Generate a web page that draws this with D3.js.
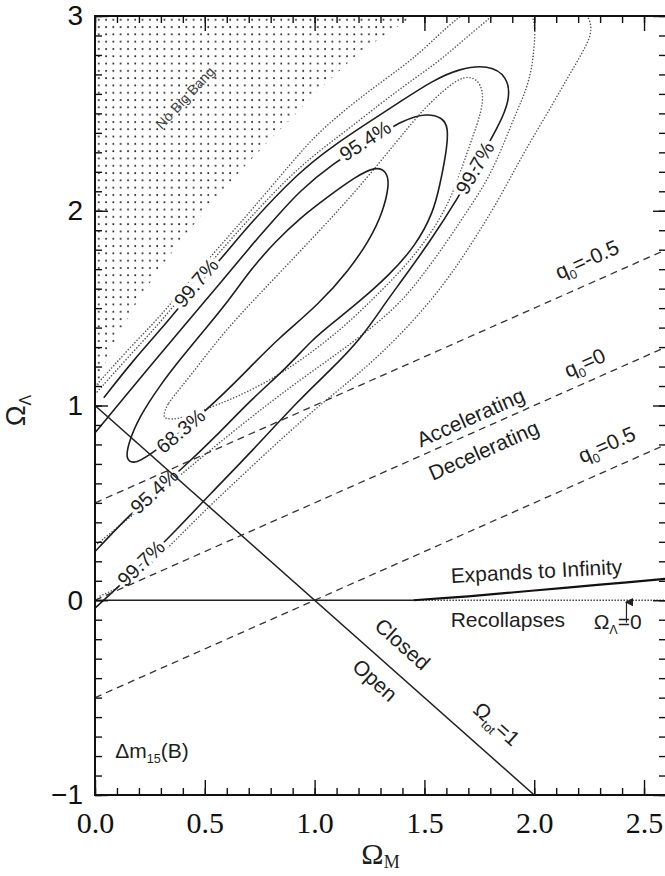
<!DOCTYPE html>
<html>
<head>
<meta charset="utf-8">
<script src="https://cdn.jsdelivr.net/npm/d3@7"></script>
<style>
  body { margin: 0; background: #fff; }
  svg { display: block; }
  text { font-family: "Liberation Sans", Arial, sans-serif; fill: #1e1e1e; }
</style>
</head>
<body>
<svg id="chart" width="665" height="876"></svg>
<script>
// tick labels
const xTicks = [0, 0.5, 1.0, 1.5, 2.0, 2.5];
const yTicks = [-1, 0, 1, 2, 3];

// "No Big Bang" edge, [Omega_M, Omega_Lambda]
const nbbEdge = [[0, 1.0], [0.02, 1.13], [0.05, 1.23], [0.1, 1.35], [0.2, 1.55], [0.3, 1.71], [0.4, 1.86],
  [0.5, 2.0], [0.6, 2.13], [0.7, 2.25], [0.8, 2.37], [0.9, 2.48], [1.0, 2.6], [1.2, 2.81], [1.45, 3.0]];

// solid contours
const solid68 = [[0.14, 0.72], [0.15, 0.80], [0.20, 0.94], [0.30, 1.11], [0.39, 1.24], [0.50, 1.39], [0.61, 1.54],
  [0.71, 1.70], [0.82, 1.84], [0.93, 1.96], [1.07, 2.08], [1.18, 2.17], [1.28, 2.23], [1.33, 2.20], [1.34, 2.13],
  [1.31, 1.99], [1.25, 1.85], [1.16, 1.70], [1.02, 1.52], [0.83, 1.34], [0.71, 1.20], [0.55, 1.02], [0.39, 0.86],
  [0.24, 0.74], [0.18, 0.70]];
const solid95 = [[0.00, 0.86], [0.11, 1.01], [0.25, 1.20], [0.39, 1.39], [0.55, 1.60], [0.71, 1.82], [0.82, 1.96],
  [0.93, 2.10], [1.08, 2.24], [1.25, 2.36], [1.41, 2.47], [1.51, 2.50], [1.58, 2.48], [1.61, 2.43], [1.60, 2.30],
  [1.57, 2.13], [1.54, 1.99], [1.46, 1.82], [1.34, 1.67], [1.21, 1.54], [1.09, 1.43], [0.99, 1.34], [0.87, 1.19],
  [0.71, 1.03], [0.55, 0.84], [0.40, 0.68], [0.25, 0.53], [0.15, 0.43], [0.00, 0.25]];
const solid99 = [[0.04, 1.04], [0.18, 1.24], [0.30, 1.39], [0.43, 1.57], [0.58, 1.76], [0.71, 1.94], [0.93, 2.20],
  [1.08, 2.33], [1.24, 2.45], [1.39, 2.56], [1.54, 2.67], [1.66, 2.73], [1.79, 2.75], [1.88, 2.69], [1.89, 2.57],
  [1.84, 2.44], [1.75, 2.26], [1.65, 2.06], [1.53, 1.85], [1.39, 1.63], [1.33, 1.54], [1.21, 1.34], [1.07, 1.18],
  [0.93, 1.03], [0.71, 0.76], [0.52, 0.54], [0.37, 0.36], [0.20, 0.17], [0.06, 0.02], [0.00, -0.04]];

// dotted contours
const dot68 = [[0.31, 0.95], [0.33, 1.01], [0.39, 1.09], [0.48, 1.22], [0.59, 1.38], [0.73, 1.55], [0.89, 1.74],
  [1.05, 1.93], [1.21, 2.13], [1.37, 2.35], [1.50, 2.53], [1.62, 2.65], [1.68, 2.69], [1.74, 2.68], [1.77, 2.61],
  [1.76, 2.51], [1.72, 2.38], [1.67, 2.22], [1.62, 2.06], [1.53, 1.88], [1.41, 1.71], [1.26, 1.54], [1.12, 1.39],
  [0.96, 1.25], [0.80, 1.13], [0.64, 1.04], [0.48, 0.97], [0.38, 0.93], [0.32, 0.93]];
const dot95 = [[0.01, 1.07], [0.16, 1.26], [0.30, 1.43], [0.43, 1.61], [0.57, 1.79], [0.71, 1.97], [0.93, 2.23],
  [1.12, 2.39], [1.30, 2.55], [1.43, 2.66], [1.57, 2.77], [1.68, 2.88], [1.81, 3.00], [1.91, 3.11], [2.01, 3.00],
  [2.00, 2.85], [1.99, 2.73], [1.96, 2.61], [1.92, 2.51], [1.86, 2.34], [1.79, 2.16], [1.69, 1.99], [1.59, 1.82],
  [1.48, 1.65], [1.37, 1.50], [1.16, 1.31], [0.93, 1.13], [0.71, 0.94], [0.48, 0.73], [0.25, 0.51], [0.00, 0.28]];
const dot99 = [[0.01, 1.11], [0.16, 1.30], [0.30, 1.46], [0.43, 1.64], [0.57, 1.82], [0.71, 2.00], [0.89, 2.24],
  [1.02, 2.41], [1.24, 2.61], [1.39, 2.73], [1.51, 2.84], [1.65, 3.00], [1.98, 3.24], [2.30, 3.00], [2.23, 2.83],
  [2.15, 2.68], [2.07, 2.52], [1.99, 2.37], [1.91, 2.21], [1.84, 2.06], [1.71, 1.82], [1.57, 1.59], [1.39, 1.36],
  [1.21, 1.17], [1.02, 1.00], [0.84, 0.82], [0.66, 0.63], [0.48, 0.44], [0.30, 0.23], [0.14, 0.08], [0.02, 0.02]];

// contour level labels
const levelLabels = ["95.4%", "99.7%", "99.7%", "68.3%", "95.4%", "99.7%"];
const levelAt = [[1.23, 2.36], [0.46, 1.63], [1.73, 2.22], [0.39, 0.87], [0.27, 0.56], [0.21, 0.19]];

// straight reference lines
const q0Lines = [[[0, 0.5], [2.6, 1.8]], [[0, 0], [2.6, 1.3]], [[0, -0.5], [2.6, 0.8]]];
const flatLine = [[0, 1], [2, -1]];
const zeroSolid = [[0, 0], [1.45, 0]];
const zeroDotted = [[1.45, 0], [2.6, 0]];
const expandEdge = [[1.45, 0.0], [1.7, 0.02], [2.0, 0.05], [2.3, 0.08], [2.6, 0.11]];
const arrowAt = [[2.42, -0.115], [2.42, -0.01]];

// text notes: pieces [text, subscript?]
const notes = [
  { parts: [["No Big Bang"]], at: [0.41, 2.58] },
  { parts: [["Accelerating"]], at: [1.71, 0.94] },
  { parts: [["Decelerating"]], at: [1.77, 0.77] },
  { parts: [["q"], ["0", 1], ["=-0.5"]], at: [2.24, 1.75] },
  { parts: [["q"], ["0", 1], ["=0"]], at: [2.23, 1.22] },
  { parts: [["q"], ["0", 1], ["=0.5"]], at: [2.33, 0.80] },
  { parts: [["Expands to Infinity"]], at: [2.01, 0.15] },
  { parts: [["Recollapses"]], at: [1.88, -0.10] },
  { parts: [["Ω"], ["Λ", 1], ["=0"]], at: [2.38, -0.11] },
  { parts: [["Closed"]], at: [1.40, -0.225] },
  { parts: [["Open"]], at: [1.275, -0.41] },
  { parts: [["Ω"], ["tot", 1], ["=1"]], at: [1.83, -0.635] },
  { parts: [["Δm"], ["15", 1], ["(B)"]], at: [0.26, -0.77] }
];
const noteAngle = [-47, -24, -24, -24, -24, -24, -3, 0, 0, 42, 42, 42, 0];
const levelAngle = [-33, -50, -60, -40, -42, -44];

const svg = d3.select("#chart");
const x = d3.scaleLinear().domain([0, 2.6]).range([95, 666]);
const y = d3.scaleLinear().domain([-1, 3]).range([795, 16]);

const defs = svg.append("defs");
defs.append("clipPath").attr("id", "plotClip").append("rect")
  .attr("x", x(0)).attr("y", y(3)).attr("width", x(2.6) - x(0)).attr("height", y(-1) - y(3));
const pat = defs.append("pattern").attr("id", "dots").attr("patternUnits", "userSpaceOnUse")
  .attr("x", x(0)).attr("y", y(3)).attr("width", 7.3).attr("height", 7.3);
pat.append("circle").attr("cx", 3.8).attr("cy", 3.8).attr("r", 0.95).attr("fill", "#222");
defs.append("marker").attr("id", "arrow").attr("viewBox", "0 0 10 10").attr("refX", 5).attr("refY", 2)
  .attr("markerWidth", 7).attr("markerHeight", 7).attr("orient", "auto-start-reverse")
  .append("path").attr("d", "M0,10 L5,0 L10,10 Z").attr("fill", "#222");

const line = d3.line().x(d => x(d[0])).y(d => y(d[1]));
const smooth = d3.line().x(d => x(d[0])).y(d => y(d[1])).curve(d3.curveBasis);
const smoothClosed = d3.line().x(d => x(d[0])).y(d => y(d[1])).curve(d3.curveBasisClosed);

const plot = svg.append("g").attr("clip-path", "url(#plotClip)");

// no big bang region
plot.append("path").attr("d", line(nbbEdge.concat([[0, 3]])) + "Z").attr("fill", "url(#dots)");

// dotted contours
[[dot68, true], [dot95, false], [dot99, false]].forEach(([pts, closed]) => {
  plot.append("path").attr("d", closed ? smoothClosed(pts) : smooth(pts))
    .attr("fill", "none").attr("stroke", "#555").attr("stroke-width", 1.5)
    .attr("stroke-linecap", "round").attr("stroke-dasharray", "0.1,3");
});

// solid contours
[[solid68, true], [solid95, false], [solid99, false]].forEach(([pts, closed]) => {
  plot.append("path").attr("d", closed ? smoothClosed(pts) : smooth(pts))
    .attr("fill", "none").attr("stroke", "#1e1e1e").attr("stroke-width", 1.6);
});

function richText(g, parts, size) {
  const t = g.append("text").attr("font-size", size).attr("text-anchor", "middle").attr("y", size * 0.35);
  let shift = 0;
  parts.forEach(p => {
    const s = t.append("tspan").text(p[0]);
    if (p[1]) { s.attr("font-size", size * 0.6).attr("dy", size * 0.25); shift = size * 0.25; }
    else if (shift) { s.attr("dy", -shift); shift = 0; }
  });
  return t;
}

// level labels with white halo (gap in the lines)
levelLabels.forEach((lab, i) => {
  const g = plot.append("g")
    .attr("transform", `translate(${x(levelAt[i][0])},${y(levelAt[i][1])}) rotate(${levelAngle[i]})`);
  richText(g, [[lab]], 20).attr("stroke", "#fff").attr("stroke-width", 7).attr("paint-order", "stroke");
});

// reference lines
q0Lines.forEach(pts => {
  plot.append("path").attr("d", line(pts)).attr("fill", "none")
    .attr("stroke", "#333").attr("stroke-width", 1.3).attr("stroke-dasharray", "7,5");
});
plot.append("path").attr("d", line(flatLine)).attr("fill", "none").attr("stroke", "#222").attr("stroke-width", 1.5);
plot.append("path").attr("d", line(zeroSolid)).attr("fill", "none").attr("stroke", "#222").attr("stroke-width", 1.5);
plot.append("path").attr("d", line(zeroDotted)).attr("fill", "none").attr("stroke", "#444")
  .attr("stroke-width", 1.4).attr("stroke-dasharray", "1.5,1.5");
plot.append("path").attr("d", d3.line().x(d => x(d[0])).y(d => y(d[1])).curve(d3.curveCatmullRom)(expandEdge))
  .attr("fill", "none").attr("stroke", "#111").attr("stroke-width", 2.2);
plot.append("path").attr("d", line(arrowAt)).attr("stroke", "#222").attr("stroke-width", 1.2)
  .attr("marker-end", "url(#arrow)");

// notes
notes.forEach((n, i) => {
  const g = plot.append("g")
    .attr("transform", `translate(${x(n.at[0])},${y(n.at[1])}) rotate(${noteAngle[i]})`);
  const t = richText(g, n.parts, i === 0 ? 14 : 21);
  if (i === 0) t.style("fill", "#444");
});

// axes with inward ticks
function styleAxis(g) {
  g.select(".domain").remove();
  g.selectAll(".tick line").attr("stroke", "#111").attr("stroke-width", 1.4);
}
const minorX = d3.range(0, 2.61, 0.1), minorY = d3.range(-1, 3.01, 0.1);
svg.append("g").attr("transform", `translate(0,${y(-1)})`)
  .call(d3.axisBottom(x).tickValues(minorX).tickSizeInner(-7).tickSizeOuter(0).tickFormat("")).call(styleAxis);
svg.append("g").attr("transform", `translate(0,${y(-1)})`)
  .call(d3.axisBottom(x).tickValues(xTicks).tickSizeInner(-15).tickSizeOuter(0).tickPadding(17)
    .tickFormat(d3.format(".1f")))
  .call(styleAxis)
  .call(g => g.selectAll("text").attr("font-size", 30).style("font-family", "'Liberation Serif', 'Times New Roman', serif")
    .style("fill", "#111"));
svg.append("g").attr("transform", `translate(0,${y(3)})`)
  .call(d3.axisTop(x).tickValues(minorX).tickSizeInner(-7).tickSizeOuter(0).tickFormat("")).call(styleAxis);
svg.append("g").attr("transform", `translate(0,${y(3)})`)
  .call(d3.axisTop(x).tickValues(xTicks).tickSizeInner(-15).tickSizeOuter(0).tickFormat("")).call(styleAxis);
svg.append("g").attr("transform", `translate(${x(0)},0)`)
  .call(d3.axisLeft(y).tickValues(minorY).tickSizeInner(-7).tickSizeOuter(0).tickFormat("")).call(styleAxis);
svg.append("g").attr("transform", `translate(${x(0)},0)`)
  .call(d3.axisLeft(y).tickValues(yTicks).tickSizeInner(-13).tickSizeOuter(0).tickPadding(12).tickFormat(d3.format("d")))
  .call(styleAxis)
  .call(g => g.selectAll("text").attr("font-size", 28).style("fill", "#111"));
svg.append("g").attr("transform", `translate(${x(2.6)},0)`)
  .call(d3.axisRight(y).tickValues(minorY).tickSizeInner(-7).tickSizeOuter(0).tickFormat("")).call(styleAxis);
svg.append("g").attr("transform", `translate(${x(2.6)},0)`)
  .call(d3.axisRight(y).tickValues(yTicks).tickSizeInner(-13).tickSizeOuter(0).tickFormat("")).call(styleAxis);

// frame
svg.append("rect").attr("x", x(0)).attr("y", y(3)).attr("width", x(2.6) - x(0)).attr("height", y(-1) - y(3))
  .attr("fill", "none").attr("stroke", "#111").attr("stroke-width", 2);

// axis titles
const xt = svg.append("text").attr("x", (x(0) + x(2.6)) / 2).attr("y", 864).attr("text-anchor", "middle")
  .attr("font-size", 30).style("font-family", "'Liberation Serif', 'Times New Roman', serif");
xt.append("tspan").text("Ω");
xt.append("tspan").text("M").attr("font-size", 18).attr("dy", 4);

const yt = svg.append("g").attr("transform", `translate(25,${(y(3) + y(-1)) / 2 + 5}) rotate(-90)`)
  .append("text").attr("text-anchor", "middle").attr("font-size", 28);
yt.append("tspan").text("Ω");
yt.append("tspan").text("Λ").attr("font-size", 16).attr("dy", 6);
</script>
</body>
</html>
